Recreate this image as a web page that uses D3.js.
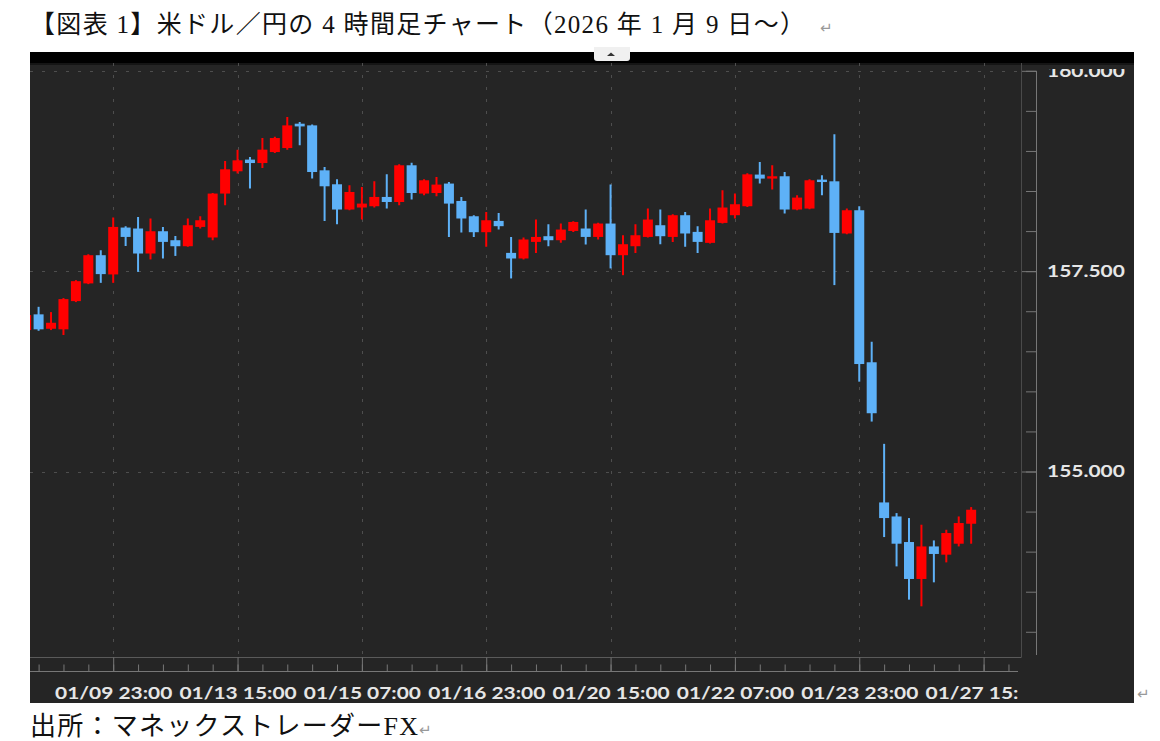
<!DOCTYPE html>
<html>
<head>
<meta charset="utf-8">
<script src="https://cdn.jsdelivr.net/npm/d3@7"></script>
<style>
  body { margin: 0; background: #fff; }
  svg { display: block; }
</style>
</head>
<body>
<div id="chart"></div>
<script>
      var w = 1160;
      var h = 741;

      // 4h candles, index 0 = 01/09 23:00, first visible candle is index -7
      var firstIdx = -7;
      var open = [156.765, 156.961, 156.781, 156.774, 157.126, 157.347, 157.699,
                  157.459, 158.044, 158.032, 157.720, 157.998, 157.886, 157.811, 158.052, 157.920, 158.468,
                  158.746, 158.892, 158.849, 158.986, 159.036, 159.340, 159.319, 158.758, 158.584, 158.269,
                  158.294, 158.310, 158.426, 158.363, 158.821, 158.468, 158.475, 158.593, 158.376, 158.185,
                  157.986, 158.127, 157.728, 157.658, 157.865, 157.936, 157.886, 158.002, 158.032, 157.927,
                  158.094, 157.699, 157.811, 157.927, 158.073, 157.927, 158.198, 157.990, 157.853, 158.102,
                  158.198, 158.310, 158.705, 158.655, 158.684, 158.269, 158.281, 158.642, 158.621, 157.970,
                  158.260, 156.363, 154.614, 154.439, 154.120, 153.659, 154.065, 153.962, 154.099, 154.348];
      var high = [156.977, 157.055, 156.989, 157.164, 157.388, 157.712, 157.762,
                  158.169, 158.061, 158.176, 158.157, 158.052, 157.940, 158.157, 158.185, 158.475, 158.874,
                  159.016, 158.924, 159.161, 159.176, 159.422, 159.360, 159.331, 158.799, 158.646, 158.571,
                  158.550, 158.621, 158.708, 158.833, 158.854, 158.646, 158.675, 158.612, 158.426, 158.198,
                  158.239, 158.226, 157.927, 157.920, 158.144, 158.086, 158.094, 158.123, 158.269, 158.104,
                  158.580, 157.948, 158.086, 158.281, 158.269, 158.210, 158.239, 158.061, 158.281, 158.509,
                  158.468, 158.721, 158.862, 158.821, 158.737, 158.447, 158.646, 158.696, 159.207, 158.281,
                  158.310, 156.619, 155.345, 154.481, 154.419, 154.336, 154.140, 154.273, 154.439, 154.556];
      var low = [156.740, 156.756, 156.765, 156.703, 157.114, 157.338, 157.354,
                  157.354, 157.815, 157.491, 157.646, 157.658, 157.690, 157.803, 158.032, 157.886, 158.322,
                  158.717, 158.530, 158.787, 158.974, 159.016, 159.070, 158.655, 158.127, 158.086, 158.260,
                  158.144, 158.294, 158.281, 158.322, 158.393, 158.447, 158.434, 157.927, 157.982, 157.927,
                  157.803, 158.020, 157.409, 157.646, 157.728, 157.811, 157.853, 157.990, 157.833, 157.895,
                  157.534, 157.450, 157.728, 157.920, 157.836, 157.865, 157.803, 157.728, 157.845, 158.094,
                  158.157, 158.301, 158.593, 158.518, 158.219, 158.260, 158.272, 158.447, 157.326, 157.961,
                  156.121, 155.623, 154.182, 153.816, 153.401, 153.318, 153.617, 153.866, 154.065, 154.099];
      var close = [156.952, 156.774, 156.856, 157.151, 157.375, 157.699, 157.463,
                  158.052, 157.927, 157.720, 157.998, 157.865, 157.811, 158.073, 158.135, 158.468, 158.771,
                  158.883, 158.849, 159.016, 159.161, 159.319, 159.306, 158.737, 158.559, 158.269, 158.488,
                  158.343, 158.426, 158.363, 158.821, 158.475, 158.634, 158.580, 158.343, 158.157, 157.986,
                  158.135, 158.061, 157.658, 157.895, 157.927, 157.886, 158.019, 158.114, 157.927, 158.094,
                  157.699, 157.836, 157.948, 158.144, 157.936, 158.198, 157.970, 157.865, 158.135, 158.294,
                  158.335, 158.708, 158.655, 158.684, 158.269, 158.418, 158.634, 158.612, 157.977, 158.260,
                  156.341, 155.727, 154.419, 154.099, 153.659, 154.065, 153.971, 154.232, 154.357, 154.523];

      var tickIdx = [0, 10, 20, 30, 40, 50, 60, 70];
      var tickLabels = ['01/09 23:00', '01/13 15:00', '01/15 07:00', '01/16 23:00',
                        '01/20 15:00', '01/22 07:00', '01/23 23:00', '01/27 15:00'];
      var priceTicks = [160, 157.5, 155];

      var title = '【図表 1】米ドル／円の 4 時間足チャート（2026 年 1 月 9 日〜）';
      var source = '出所：マネックストレーダーFX';

      var dataset = open.map(function(o, i) {
        return {i: firstIdx + i, o: o, h: high[i], l: low[i], c: close[i]};
      });

      // chart frame (screenshot box)
      var boxL = 30, boxR = 1134, boxT = 52, barB = 63, boxB = 703;
      var plotR = 1021.5, plotB = 657, axisX = 1036, xAxisY = 671.5;
      var stretch = 1.23;   // the screenshot is stretched sideways

      //Create scale functions
      var xScale = d3.scaleLinear()
                 .domain([0, 70])
                 .range([113.2, 983.6]);

      var yScale = d3.scaleLinear()
                 .domain([155, 160])
                 .range([471.5, 70.8]);

      var svg = d3.select('#chart')
            .append('svg')
            .attr('width', w)
            .attr('height', h);

      var defs = svg.append('defs');
      defs.append('clipPath').attr('id', 'plotClip')
        .append('rect').attr('x', boxL).attr('y', barB).attr('width', plotR - boxL).attr('height', plotB - barB);
      defs.append('clipPath').attr('id', 'xlabClip')
        .append('rect').attr('x', boxL).attr('y', plotB).attr('width', 1018 - boxL).attr('height', boxB - plotB);
      defs.append('clipPath').attr('id', 'ylabClip')
        .append('rect').attr('x', plotR).attr('y', 69).attr('width', boxR - plotR).attr('height', boxB - 69);

      //Title and source texts
      svg.append('text')
        .attr('x', 30)
        .attr('y', 33)
        .attr('textLength', 775)
        .attr('lengthAdjust', 'spacing')
        .style('font-family', "'Liberation Serif', 'Noto Sans CJK JP', serif")
        .style('font-size', '25px')
        .style('fill', '#111')
        .text(title);

      svg.append('text')
        .attr('x', 820)
        .attr('y', 33)
        .style('font-family', "'DejaVu Sans', sans-serif")
        .style('font-size', '15px')
        .style('fill', '#999')
        .text('↵');

      svg.append('text')
        .attr('x', 30)
        .attr('y', 735)
        .attr('textLength', 388)
        .attr('lengthAdjust', 'spacing')
        .style('font-family', "'Liberation Serif', 'Noto Sans CJK JP', serif")
        .style('font-size', '26px')
        .style('fill', '#111')
        .text(source);

      svg.append('text')
        .attr('x', 419)
        .attr('y', 735)
        .style('font-family', "'DejaVu Sans', sans-serif")
        .style('font-size', '15px')
        .style('fill', '#999')
        .text('↵');

      svg.append('text')
        .attr('x', 1137)
        .attr('y', 699)
        .style('font-family', "'DejaVu Sans', sans-serif")
        .style('font-size', '15px')
        .style('fill', '#999')
        .text('↵');

      //Chart background
      svg.append('rect')
        .attr('x', boxL).attr('y', barB)
        .attr('width', boxR - boxL).attr('height', boxB - barB)
        .style('fill', '#252525');

      svg.append('rect')
        .attr('x', boxL).attr('y', boxT)
        .attr('width', boxR - boxL).attr('height', barB - boxT)
        .style('fill', '#000');

      svg.append('rect')
        .attr('x', boxL).attr('y', barB)
        .attr('width', boxR - boxL).attr('height', 2)
        .style('fill', '#151515');

      // little collapse tab on the top bar
      svg.append('path')
        .attr('d', 'M594,47 H630 V58 Q630,61 627,61 H597 Q594,61 594,58 Z')
        .style('fill', '#f0f0f0');
      svg.append('path')
        .attr('d', 'M607,56 L611,52.5 L615,56 Z')
        .style('fill', '#333');

      //Grid lines
      var grid = svg.append('g').attr('clip-path', 'url(#plotClip)');

      grid.selectAll('.vgrid')
        .data(tickIdx)
        .enter().append('line')
        .attr('class', 'vgrid')
        .attr('x1', function(d) { return Math.round(xScale(d)) + 0.5; })
        .attr('x2', function(d) { return Math.round(xScale(d)) + 0.5; })
        .attr('y1', barB)
        .attr('y2', plotB)
        .style('stroke', '#4e4e4e')
        .style('stroke-dasharray', '3,9');

      grid.selectAll('.hgrid')
        .data(priceTicks)
        .enter().append('line')
        .attr('class', 'hgrid')
        .attr('x1', boxL)
        .attr('x2', plotR)
        .attr('y1', function(d) { return Math.round(yScale(d)) + 0.5; })
        .attr('y2', function(d) { return Math.round(yScale(d)) + 0.5; })
        .style('stroke', '#4e4e4e')
        .style('stroke-dasharray', '3,9');

      //Create candles
      var candles = svg.append('g').attr('clip-path', 'url(#plotClip)');
      var red = '#ff0000', blue = '#5eb1f7';
      function col(d) { return d.c >= d.o ? red : blue; }

      candles.selectAll('.wick')
        .data(dataset)
        .enter().append('line')
        .attr('class', 'wick')
        .attr('x1', function(d) { return xScale(d.i); })
        .attr('x2', function(d) { return xScale(d.i); })
        .attr('y1', function(d) { return yScale(d.h); })
        .attr('y2', function(d) { return yScale(d.l); })
        .style('stroke', col)
        .style('stroke-width', 2);

      candles.selectAll('.body')
        .data(dataset)
        .enter().append('rect')
        .attr('class', 'body')
        .attr('x', function(d) { return xScale(d.i) - 5; })
        .attr('width', 10)
        .attr('y', function(d) { return yScale(Math.max(d.o, d.c)); })
        .attr('height', function(d) {
          return Math.max(2, Math.abs(yScale(d.o) - yScale(d.c)));
        })
        .style('fill', col);

      //Plot border
      svg.append('line')
        .attr('x1', plotR).attr('x2', plotR)
        .attr('y1', barB).attr('y2', plotB)
        .style('stroke', '#4a4a4a');
      svg.append('line')
        .attr('x1', boxL).attr('x2', plotR)
        .attr('y1', plotB + 0.5).attr('y2', plotB + 0.5)
        .style('stroke', '#5a5a5a');

      //Create X axis (ticks point up)
      var xMinor = d3.axisBottom(xScale)
                .tickValues(d3.range(-6, 73, 2))
                .tickSize(-7)
                .tickSizeOuter(0)
                .tickFormat('');

      var xMajor = d3.axisBottom(xScale)
                .tickValues(tickIdx)
                .tickSize(-14)
                .tickSizeOuter(0)
                .tickPadding(15)
                .tickFormat(function(d, i) { return tickLabels[i]; });

      var xg = svg.append('g').attr('clip-path', 'url(#xlabClip)');

      xg.append('g')
        .attr('transform', 'translate(0,' + xAxisY + ')')
        .call(xMinor);
      xg.append('g')
        .attr('class', 'xmajor')
        .attr('transform', 'translate(0,' + xAxisY + ')')
        .call(xMajor);
      xg.selectAll('.domain').remove();
      xg.selectAll('.tick line').style('stroke', '#777');
      xg.selectAll('.xmajor text')
        .attr('transform', 'scale(' + stretch + ',1)')
        .style('font-family', 'Lato, sans-serif')
        .style('font-weight', 'bold')
        .style('font-size', '17px')
        .style('fill', '#e6e6e6');

      xg.append('line')
        .attr('x1', boxL).attr('x2', 1018)
        .attr('y1', xAxisY).attr('y2', xAxisY)
        .style('stroke', '#777');

      //Create Y axis (ticks point left, labels on the right)
      var yMinor = d3.axisLeft(yScale)
                .tickValues(d3.range(153, 160.01, 0.5))
                .tickSize(10)
                .tickFormat('');
      var yMajor = d3.axisLeft(yScale)
                .tickValues(priceTicks)
                .tickSize(14)
                .tickFormat('');
      var yLabels = d3.axisRight(yScale)
                .tickValues(priceTicks)
                .tickSize(0)
                .tickPadding(9)
                .tickFormat(d3.format('.3f'));

      var yg = svg.append('g').attr('clip-path', 'url(#ylabClip)');
      yg.append('g').attr('transform', 'translate(' + axisX + ',0)').call(yMinor);
      yg.append('g').attr('transform', 'translate(' + axisX + ',0)').call(yMajor);
      var yl = yg.append('g').attr('class', 'ylab')
        .attr('transform', 'translate(' + axisX + ',0)').call(yLabels);
      yg.selectAll('.domain').remove();
      yg.selectAll('.tick line').style('stroke', '#777');
      yl.selectAll('text')
        .attr('transform', 'scale(' + stretch + ',1)')
        .style('font-family', 'Lato, sans-serif')
        .style('font-weight', 'bold')
        .style('font-size', '17px')
        .style('fill', '#e6e6e6');

      svg.append('line')
        .attr('x1', axisX + 0.5).attr('x2', axisX + 0.5)
        .attr('y1', yScale(160)).attr('y2', 655)
        .style('stroke', '#777');
</script>
</body>
</html>
